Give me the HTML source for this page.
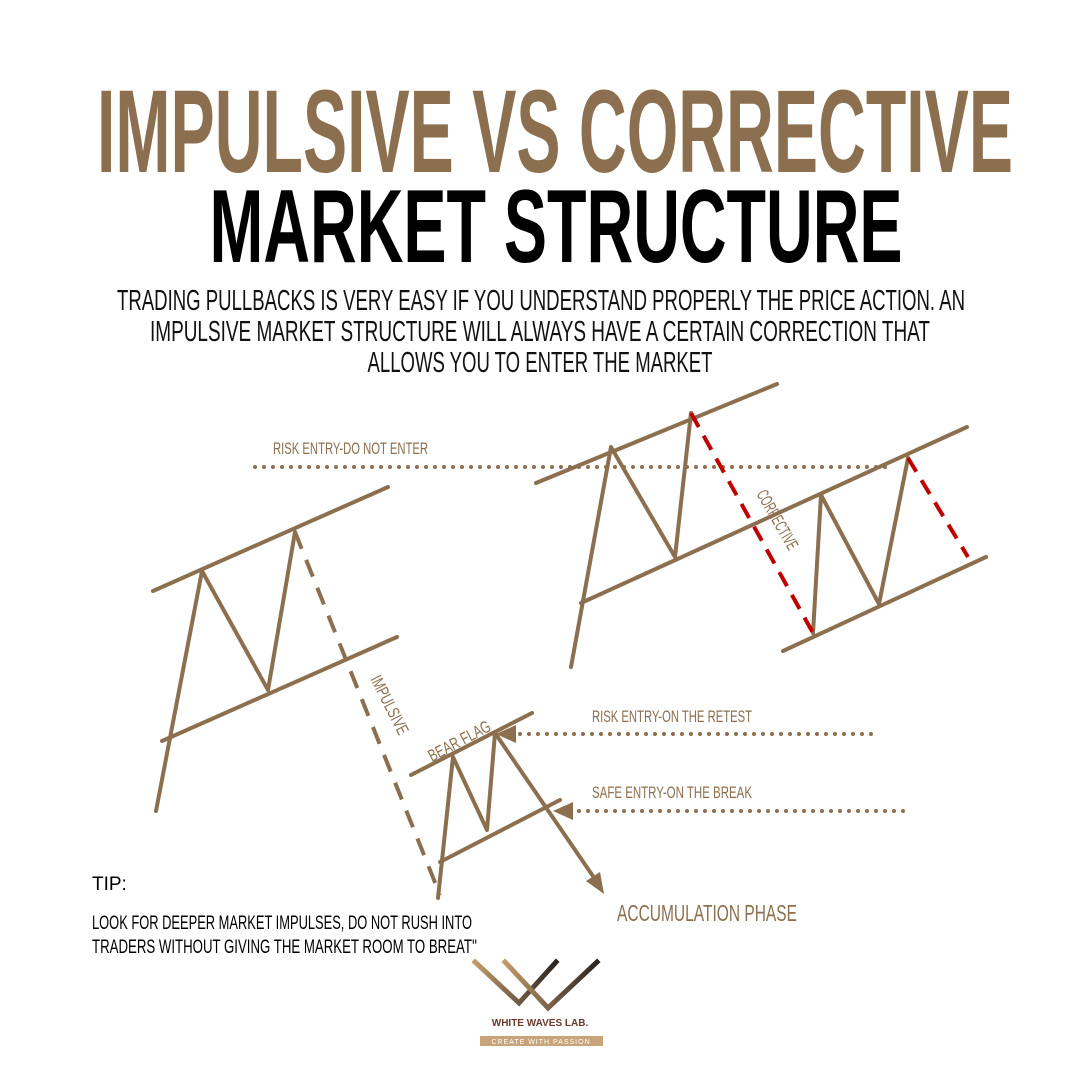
<!DOCTYPE html>
<html><head><meta charset="utf-8"><style>
html,body{margin:0;padding:0;background:#fff}
svg{display:block}
text{font-family:"Liberation Sans Narrow","Liberation Sans",sans-serif}
</style></head><body>
<svg width="1080" height="1080" viewBox="0 0 1080 1080" xmlns="http://www.w3.org/2000/svg">
<defs>
<linearGradient id="g" x1="0" x2="1" y1="0" y2="0">
<stop offset="0" stop-color="#c19a6b"/><stop offset="1" stop-color="#2a2420"/>
</linearGradient>
</defs>
<rect width="1080" height="1080" fill="#fff"/>
<text x="555" y="172" text-anchor="middle" font-size="118" font-weight="bold" fill="#8b6f4e" textLength="916" lengthAdjust="spacingAndGlyphs">IMPULSIVE VS CORRECTIVE</text>
<text x="556" y="262" text-anchor="middle" font-size="104" font-weight="bold" fill="#000" textLength="693" lengthAdjust="spacingAndGlyphs">MARKET STRUCTURE</text>
<g font-size="29" fill="#111" text-anchor="middle">
<text x="541" y="310" textLength="848" lengthAdjust="spacingAndGlyphs">TRADING PULLBACKS IS VERY EASY IF YOU UNDERSTAND PROPERLY THE PRICE ACTION. AN</text>
<text x="540" y="341" textLength="780" lengthAdjust="spacingAndGlyphs">IMPULSIVE MARKET STRUCTURE WILL ALWAYS HAVE A CERTAIN CORRECTION THAT</text>
<text x="540" y="372" textLength="345" lengthAdjust="spacingAndGlyphs">ALLOWS YOU TO ENTER THE MARKET</text>
</g>
<g stroke="#8b6f4e" stroke-width="4" fill="none" stroke-linecap="round" stroke-linejoin="round">
<line x1="153" y1="591" x2="388" y2="487"/>
<line x1="162" y1="741" x2="397" y2="637"/>
<polyline points="156,811 202,571 268,690 295,532"/>
<line x1="295" y1="532" x2="440" y2="895" stroke-dasharray="18,12" stroke-linecap="butt"/>
<line x1="255" y1="467" x2="890" y2="467" stroke-dasharray="0,9" stroke-width="4"/>
<line x1="536" y1="483" x2="777" y2="384"/>
<line x1="581" y1="603" x2="967" y2="427"/>
<line x1="783" y1="651" x2="986" y2="557"/>
<polyline points="571,667 611,447 675,557 691,413"/>
<polyline points="813,633 821,495 879,604 908,458"/>
<line x1="411" y1="775" x2="532" y2="713"/>
<line x1="440" y1="862" x2="560" y2="800"/>
<polyline points="438,898 453,757 487,830 495,733 597,882"/>
<line x1="520" y1="734" x2="872" y2="734" stroke-dasharray="0,9"/>
<line x1="570" y1="811" x2="908" y2="811" stroke-dasharray="0,9"/>
</g>
<g stroke="#c00000" stroke-width="4" fill="none" stroke-dasharray="16,10">
<line x1="691" y1="413" x2="813" y2="633"/>
<line x1="908" y1="458" x2="968" y2="557"/>
</g>
<g fill="#8b6f4e">
<polygon points="604,894 586,881 600,872"/>
<polygon points="496,734 516,725 516,743"/>
<polygon points="553,811 573,802 573,820"/>
</g>
<g fill="#8b6f4e" font-size="17">
<text x="273" y="454" textLength="155" lengthAdjust="spacingAndGlyphs">RISK ENTRY-DO NOT ENTER</text>
<text x="592" y="722" textLength="160" lengthAdjust="spacingAndGlyphs">RISK ENTRY-ON THE RETEST</text>
<text x="592" y="798" textLength="160" lengthAdjust="spacingAndGlyphs">SAFE ENTRY-ON THE BREAK</text>
<text x="617" y="921" font-size="23" textLength="180" lengthAdjust="spacingAndGlyphs">ACCUMULATION PHASE</text>
<text transform="translate(370,679) rotate(63)" font-size="17" textLength="64" lengthAdjust="spacingAndGlyphs">IMPULSIVE</text>
<text transform="translate(756,494) rotate(60)" font-size="17" textLength="66" lengthAdjust="spacingAndGlyphs">CORRECTIVE</text>
<text transform="translate(432,762) rotate(-28)" font-size="17" textLength="68" lengthAdjust="spacingAndGlyphs">BEAR FLAG</text>
</g>
<g fill="#000" font-size="19">
<text x="92" y="890">TIP:</text>
<text x="92" y="929" textLength="380" lengthAdjust="spacingAndGlyphs">LOOK FOR DEEPER MARKET IMPULSES, DO NOT RUSH INTO</text>
<text x="92" y="953" textLength="385" lengthAdjust="spacingAndGlyphs">TRADERS WITHOUT GIVING THE MARKET ROOM TO BREAT''</text>
</g>
<g stroke="url(#g)" stroke-width="5" fill="none" stroke-linecap="square">
<polyline points="475,962 519,1003 556,962"/>
<polyline points="505,962 548,1008 597,962"/>
</g>
<text x="540" y="1026" text-anchor="middle" font-family="Liberation Serif,serif" font-size="10" font-weight="bold" fill="#6b3a2a">WHITE WAVES LAB.</text>
<rect x="480" y="1036" width="123" height="10" fill="#c9a47a"/>
<text x="541" y="1044" text-anchor="middle" font-family="Liberation Serif,serif" font-size="7" fill="#fff" letter-spacing="1">CREATE WITH PASSION</text>
</svg>
</body></html>
